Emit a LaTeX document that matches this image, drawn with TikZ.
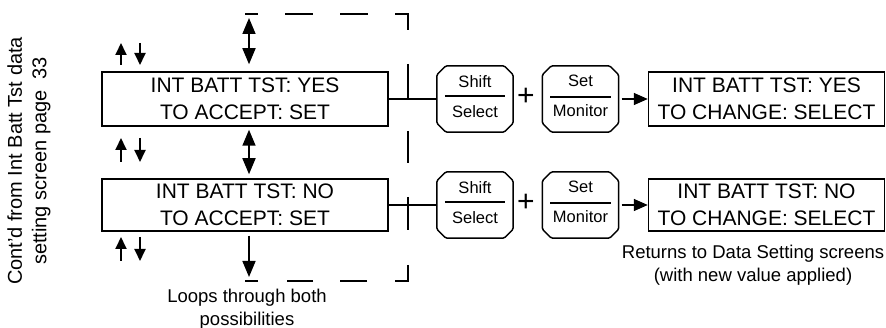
\documentclass[tikz,border=0pt]{standalone}
\usepackage{fontspec}
\setmainfont{Liberation Sans}
\usetikzlibrary{arrows.meta}
\newcommand{\keyoutline}[1]{%
  \draw[keyline] ([xshift=9pt]#1.north west) -- ([xshift=-9pt]#1.north east)
    -- ([yshift=-9pt]#1.north east) -- ([yshift=9pt]#1.south east)
    -- ([xshift=-9pt]#1.south east) -- ([xshift=9pt]#1.south west)
    -- ([yshift=9pt]#1.south west) -- ([yshift=-9pt]#1.north west) -- cycle;}
\begin{document}
\begin{tikzpicture}[x=1pt,y=-1pt,
  screen/.style={draw, line width=1.5pt, inner sep=0pt, align=center,
    font=\fontsize{21}{27}\selectfont},
  keyb/.style={rectangle, minimum width=76pt, minimum height=66pt, inner sep=0pt},
  keyline/.style={line width=1.5pt, rounded corners=1.5pt},
  keytxt/.style={inner sep=0pt, font=\fontsize{16.5}{18}\selectfont},
  divider/.style={line width=1.5pt},
  plussign/.style={inner sep=0pt, font=\fontsize{30}{30}\selectfont},
  note/.style={inner sep=0pt, align=center, font=\fontsize{18.5}{22.5}\selectfont},
  vnote/.style={inner sep=0pt, align=center, font=\fontsize{20}{24.5}\selectfont},
  conn/.style={line width=1.5pt},
  arr/.style={line width=1.6pt, -{Triangle[length=14pt,width=12pt]}},
  dbl/.style={line width=1.6pt, {Triangle[length=16pt,width=13pt]}-{Triangle[length=16pt,width=13pt]}},
  dwn/.style={line width=1.6pt, -{Triangle[length=16pt,width=13pt]}},
  small/.style={line width=1.8pt, -{Triangle[length=12pt,width=11pt]}},
  loopdash/.style={line width=1.6pt}
]
\useasboundingbox (0,0) rectangle (886,328);

% screens
\node[screen, minimum width=286pt, minimum height=54pt] (s1) at (245,99) {INT BATT TST: YES\\TO ACCEPT: SET};
\node[screen, minimum width=286pt, minimum height=52pt] (s2) at (245,205) {INT BATT TST: NO\\TO ACCEPT: SET};
\node[screen, minimum width=236pt, minimum height=54pt] (s3) at (766.5,99) {INT BATT TST: YES\\TO CHANGE: SELECT};
\node[screen, minimum width=236pt, minimum height=52pt] (s4) at (766.5,205) {INT BATT TST: NO\\TO CHANGE: SELECT};

% keys row 1
\node[keyb] (k1) at (475,99) {};
\keyoutline{k1}
\node[keytxt] (k1t) at (475,82) {Shift};
\node[keytxt] (k1b) at (475,112) {Select};
\draw[divider] ([shift={(8pt,3pt)}]k1.west) -- ([shift={(-8pt,3pt)}]k1.east);
\node[plussign] (p1) at (526,97) {+};
\node[keyb] (k2) at (580.5,99) {};
\keyoutline{k2}
\node[keytxt] (k2t) at (580.5,81) {Set};
\node[keytxt] (k2b) at (580.5,111) {Monitor};
\draw[divider] ([shift={(8pt,2pt)}]k2.west) -- ([shift={(-8pt,2pt)}]k2.east);

% keys row 2
\node[keyb] (k3) at (475,205) {};
\keyoutline{k3}
\node[keytxt] (k3t) at (475,188) {Shift};
\node[keytxt] (k3b) at (475,218) {Select};
\draw[divider] ([shift={(8pt,3pt)}]k3.west) -- ([shift={(-8pt,3pt)}]k3.east);
\node[plussign] (p2) at (526,203) {+};
\node[keyb] (k4) at (580.5,205) {};
\keyoutline{k4}
\node[keytxt] (k4t) at (580.5,187) {Set};
\node[keytxt] (k4b) at (580.5,217) {Monitor};
\draw[divider] ([shift={(8pt,2pt)}]k4.west) -- ([shift={(-8pt,2pt)}]k4.east);

% connectors
\draw[conn] (s1.east) -- (k1.west);
\draw[conn] (s2.east) -- (k3.west);
\draw[arr] ([xshift=3pt]k2.east) -- (s3.west);
\draw[arr] ([xshift=3pt]k4.east) -- (s4.west);

% vertical navigation arrows
\coordinate (topend) at (249,18);
\coordinate (botend) at (249,277);
\draw[dbl] (topend) -- ([shift={(4pt,7pt)}]s1.north);
\draw[dbl] ([shift={(4pt,-3pt)}]s1.south) -- ([shift={(4pt,4pt)}]s2.north);
\draw[dwn] ([shift={(4pt,-4pt)}]s2.south) -- (botend);

% small up/down arrows
\foreach \ya/\yb/\nm in {65/43/a, 162/138/b, 261/237/c}{
  \coordinate (u\nm0) at (121,\ya); \coordinate (u\nm1) at (121,\yb);
  \coordinate (d\nm0) at (140,\yb); \coordinate (d\nm1) at (140,\ya);
  \draw[small] (u\nm0) -- (u\nm1);
  \draw[small] (d\nm0) -- (d\nm1);
}

% dashed loop
\coordinate (lt) at (245,14);
\coordinate (rt) at (408,14);
\coordinate (rb) at (408,281);
\coordinate (lb) at (245,281);
\draw[loopdash] (lt) -- (258,14) (285,14) -- (313,14) (340,14) -- (368,14)
  (395,14) -- (rt) -- (408,30)
  (408,64) -- (408,99) (408,131) -- (408,163) (408,197) -- (408,230)
  (408,265) -- (rb) -- (395,281)
  (367,281) -- (340,281) (313,281) -- (287,281) (258,281) -- (lb);

% notes
\node[vnote, rotate=90] (cont) at (29,161) {Cont'd from Int Batt Tst data\\setting screen page~~33};
\node[note] (loops) at (247,309) {Loops through both\\possibilities};
\node[note] (ret) at (753,265) {Returns to Data Setting screens\\(with new value applied)};
\end{tikzpicture}
\end{document}
